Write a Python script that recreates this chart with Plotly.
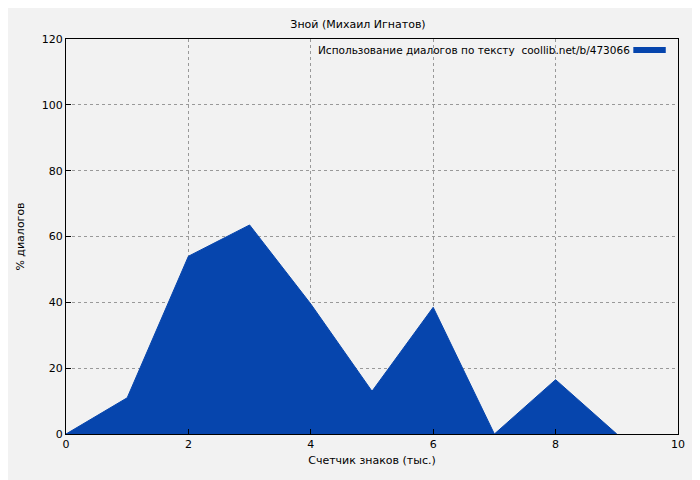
import plotly.graph_objects as go

x_vals = [0, 1, 2, 3, 4, 5, 6, 7, 8, 9]
y_vals = [0, 11, 54, 63.5, 39.5, 13, 38.5, 0, 16.5, 0]
x_ticks = [0, 2, 4, 6, 8, 10]
y_ticks = [0, 20, 40, 60, 80, 100, 120]
title = "Зной (Михаил Игнатов)"
legend_text = "Использование диалогов по тексту  coollib.net/b/473066"
color = "#0645ad"

fig = go.Figure()
fig.add_trace(go.Scatter(x=x_vals, y=y_vals, fill="tozeroy", mode="lines",
                         line=dict(color=color, width=1), fillcolor=color, showlegend=False))

axis_common = dict(showline=True, linecolor="black", mirror=True, ticks="inside", ticklen=5,
                   tickcolor="black", showgrid=True, gridcolor="#999999", griddash="dot",
                   gridwidth=1, zeroline=False, tickfont=dict(size=11, color="black"))
fig.update_xaxes(range=[0, 10], tickvals=x_ticks,
                 title=dict(text="Счетчик знаков (тыс.)", font=dict(size=11), standoff=6), **axis_common)
fig.update_yaxes(range=[0, 120], tickvals=y_ticks,
                 title=dict(text="% диалогов", font=dict(size=11), standoff=14), **axis_common)

fig.add_annotation(xref="paper", yref="paper", x=0.925, y=0.972, xanchor="right", yanchor="middle",
                   text=legend_text, showarrow=False, font=dict(size=10.5, color="black"))
fig.add_shape(type="line", xref="paper", yref="paper", x0=0.927, x1=0.98, y0=0.972, y1=0.972,
              line=dict(color=color, width=6))

fig.update_layout(
    width=700, height=480,
    title=dict(text=title, x=0.5, y=0.975, xanchor="center", font=dict(size=11, color="black")),
    font=dict(family="DejaVu Sans", size=11, color="black"),
    paper_bgcolor="#f2f2f2", plot_bgcolor="#f2f2f2",
    margin=dict(l=54, r=30, t=31, b=54),
)
fig.write_html("out.html")
